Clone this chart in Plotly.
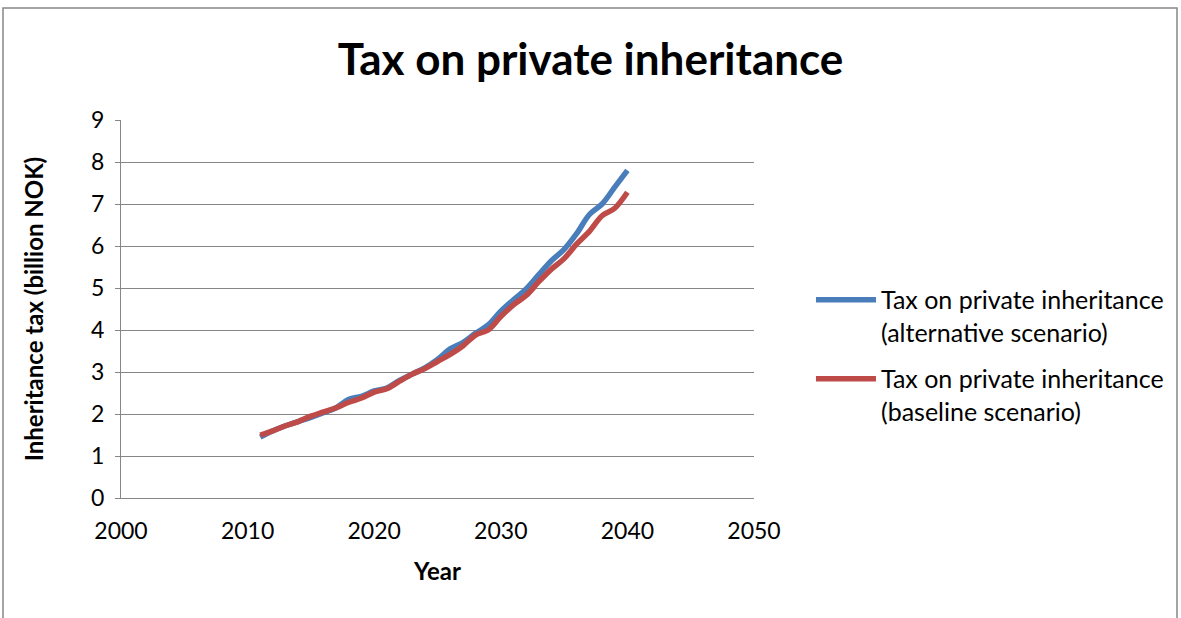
import plotly.graph_objects as go

years = list(range(2011, 2041))
alternative = [1.45, 1.60, 1.72, 1.82, 1.92, 2.03, 2.15, 2.35, 2.42, 2.55,
               2.62, 2.80, 2.95, 3.10, 3.30, 3.55, 3.70, 3.92, 4.12, 4.45,
               4.72, 4.98, 5.32, 5.65, 5.92, 6.30, 6.75, 7.00, 7.40, 7.80]
baseline = [1.50, 1.60, 1.72, 1.82, 1.95, 2.05, 2.15, 2.28, 2.38, 2.52,
            2.60, 2.78, 2.95, 3.08, 3.25, 3.42, 3.62, 3.88, 4.00, 4.32,
            4.60, 4.82, 5.15, 5.45, 5.70, 6.05, 6.35, 6.72, 6.90, 7.28]

x_ticks = [2000, 2010, 2020, 2030, 2040, 2050]
y_ticks = list(range(0, 10))

FONT = "Lato, Open Sans, sans-serif"

fig = go.Figure()
fig.add_trace(go.Scatter(
    x=years, y=alternative, mode="lines", line_shape="spline",
    line=dict(color="#4A7EBB", width=5.5), legendgroup="alt",
    name="Tax on private inheritance<br>(alternative scenario)"))
fig.add_trace(go.Scatter(
    x=years, y=baseline, mode="lines", line_shape="spline",
    line=dict(color="#BE4B48", width=5.5), legendgroup="base",
    name="Tax on private inheritance<br>(baseline scenario)"))

fig.update_layout(
    width=1181, height=618,
    margin=dict(l=121, r=427, t=120, b=120),
    paper_bgcolor="white", plot_bgcolor="white",
    font=dict(family=FONT, size=23, color="black"),
    title=dict(text="<b>Tax on private inheritance</b>", x=0.5, xanchor="center",
               y=0.903, yanchor="middle", font=dict(size=44, family=FONT)),
    legend=dict(x=1.09, y=0.377, xanchor="left", yanchor="middle",
                font=dict(size=25, family=FONT), tracegroupgap=11,
                itemwidth=60, valign="top",
                bgcolor="rgba(0,0,0,0)"),
    showlegend=True,
)
fig.update_xaxes(range=[2000, 2050], tickvals=x_ticks, showgrid=False,
                 showline=True, linecolor="#868686", linewidth=1,
                 zeroline=False, ticks="", tickfont=dict(size=23),
                 ticklabelstandoff=12,
                 title=dict(text="<b>Year</b>", font=dict(size=24), standoff=20))
fig.update_yaxes(range=[0, 9], tickvals=y_ticks, showgrid=True,
                 gridcolor="#868686", gridwidth=1,
                 showline=True, linecolor="#868686", linewidth=1,
                 zeroline=False, ticks="outside", ticklen=5, tickcolor="#868686",
                 tickfont=dict(size=23), ticklabelstandoff=6,
                 title=dict(text="<b>Inheritance tax (billion NOK)</b>",
                            font=dict(size=24), standoff=40))

# outer chart border
fig.add_shape(type="rect", xref="paper", yref="paper",
              x0=(3 - 121) / 633, x1=(1177 - 121) / 633,
              y0=(498 - 625) / 378, y1=(498 - 8) / 378,
              line=dict(color="#868686", width=1.5), layer="below")

fig.write_html("out.html")
